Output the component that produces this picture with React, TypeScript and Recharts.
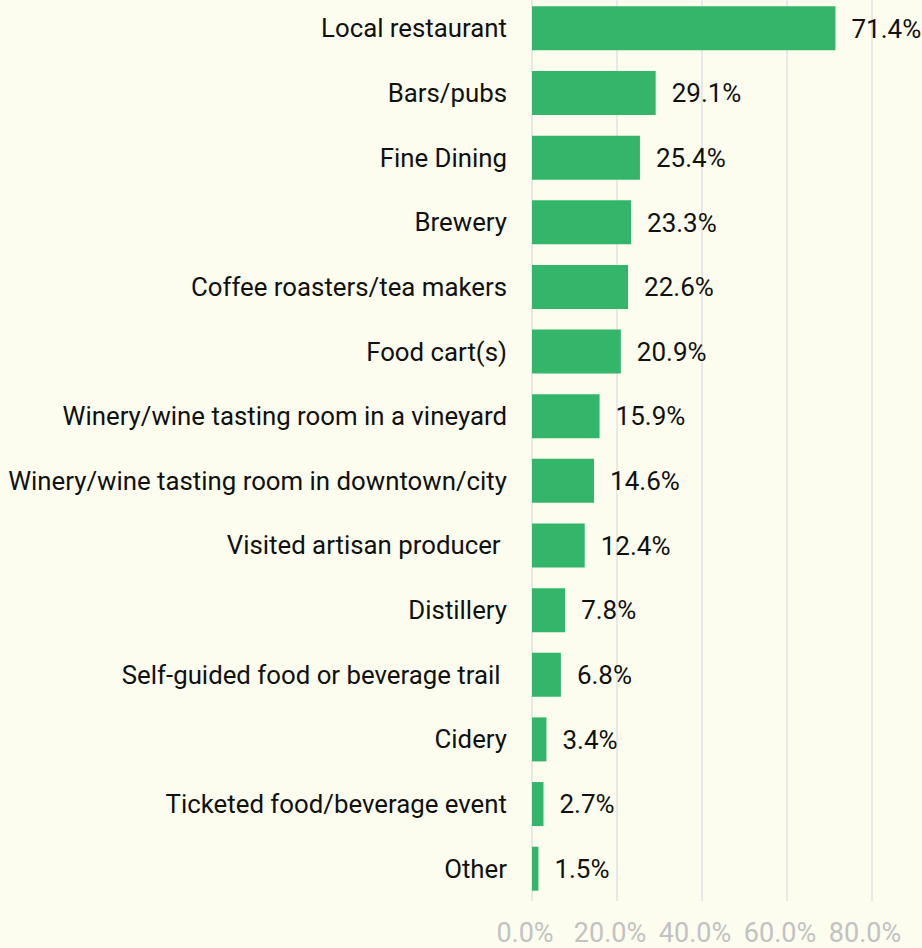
import { BarChart, Bar, XAxis, YAxis, CartesianGrid, LabelList } from 'recharts';

const categories = [
  'Local restaurant',
  'Bars/pubs',
  'Fine Dining',
  'Brewery',
  'Coffee roasters/tea makers',
  'Food cart(s)',
  'Winery/wine tasting room in a vineyard',
  'Winery/wine tasting room in downtown/city',
  'Visited artisan producer ',
  'Distillery',
  'Self-guided food or beverage trail ',
  'Cidery',
  'Ticketed food/beverage event',
  'Other',
];

const shares = [71.4, 29.1, 25.4, 23.3, 22.6, 20.9, 15.9, 14.6, 12.4, 7.8, 6.8, 3.4, 2.7, 1.5];

const xTicks = [0, 20, 40, 60, 80];

const data = categories.map((name, i) => ({ name, value: shares[i] }));

const FONT = 'Roboto, "Liberation Sans", sans-serif';

const CategoryTick = ({ x, y, payload }: any) => (
  <text
    x={x - 17}
    y={y}
    dy="0.35em"
    textAnchor="end"
    fill="#111111"
    fontSize={25.8}
    fontFamily={FONT}
    style={{ whiteSpace: 'pre' }}
  >
    {payload.value}
  </text>
);

const PercentTick = ({ x, y, payload }: any) => (
  <text
    x={x - 7}
    y={y + 33}
    textAnchor="middle"
    fill="#c2c2c2"
    fontSize={27}
    fontFamily={FONT}
  >
    {payload.value.toFixed(1)}%
  </text>
);

const App = () => {
  return (
    <div style={{ position: 'fixed', left: 0, top: 0, width: 922, height: 948, background: '#fcfdee' }}>
      <BarChart
        width={922}
        height={948}
        data={data}
        layout="vertical"
        margin={{ top: -4, right: 50, left: 0, bottom: 0 }}
        barCategoryGap="16%"
      >
        <CartesianGrid horizontal={false} stroke="#e8e8e6" strokeWidth={2} />
        <XAxis
          type="number"
          domain={[0, 80]}
          ticks={xTicks}
          axisLine={false}
          tickLine={false}
          height={47}
          tick={<PercentTick />}
          interval={0}
        />
        <YAxis
          type="category"
          dataKey="name"
          width={532}
          axisLine={false}
          tickLine={false}
          tick={<CategoryTick />}
          interval={0}
        />
        <Bar dataKey="value" fill="#33b66a" isAnimationActive={false}>
          <LabelList
            dataKey="value"
            position="right"
            offset={16}
            fill="#111111"
            fontSize={26}
            fontFamily={FONT}
            formatter={(v: any) => `${Number(v).toFixed(1)}%`}
          />
        </Bar>
      </BarChart>
    </div>
  );
};

export default App;
